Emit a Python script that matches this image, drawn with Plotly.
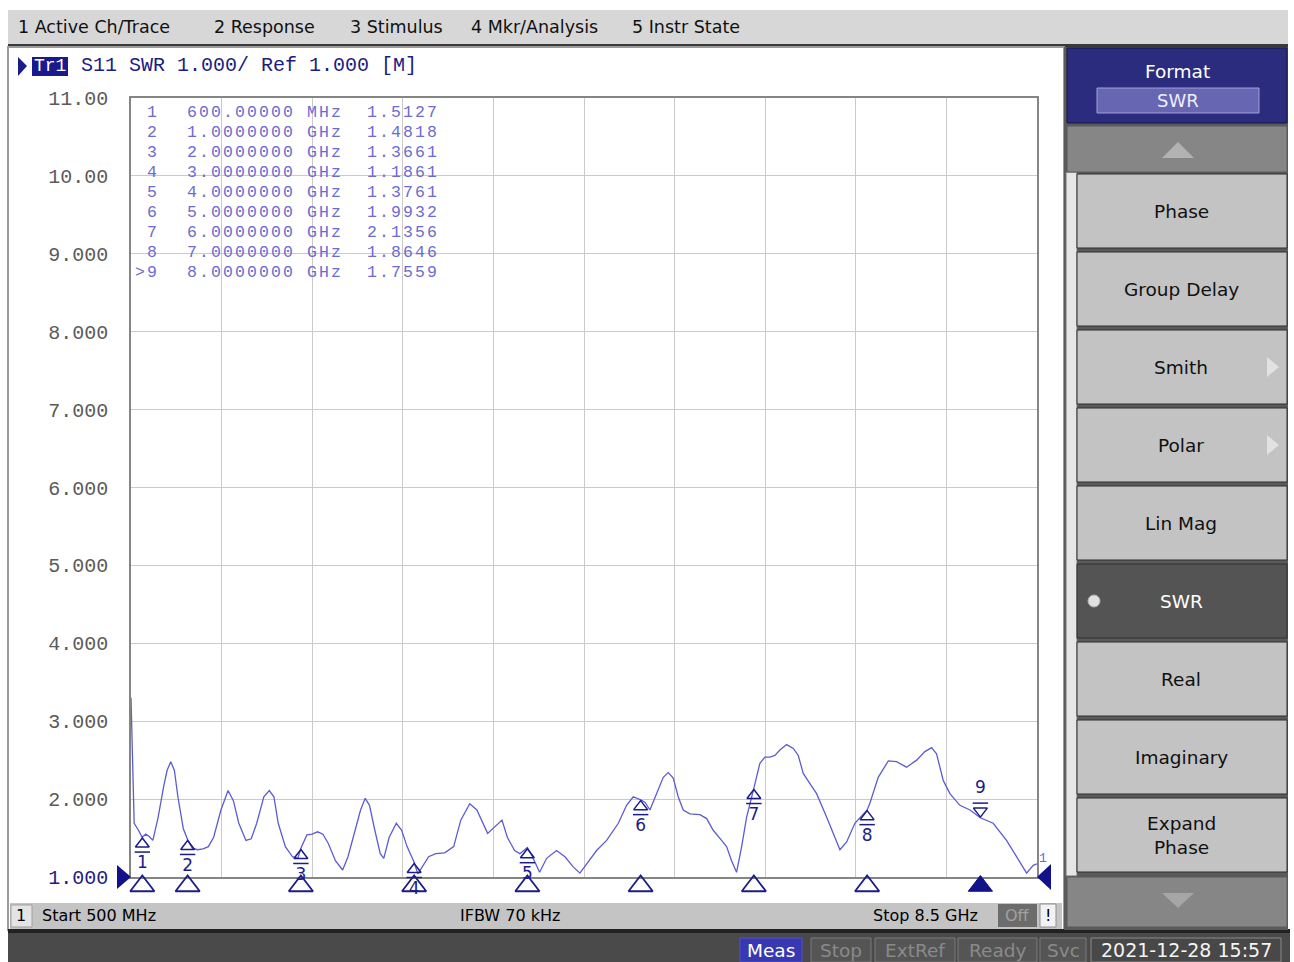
import plotly.graph_objects as go

# ---------------- data ----------------
freq_ghz = [0.500, 0.506, 0.516, 0.528, 0.566, 0.598, 0.630, 0.661, 0.693, 0.740, 0.788, 0.819, 0.851, 0.883,
            0.914, 0.962, 1.000, 1.041, 1.088, 1.136, 1.183, 1.230, 1.294, 1.357, 1.404, 1.452, 1.515, 1.562,
            1.610, 1.673, 1.721, 1.762, 1.800, 1.863, 1.926, 1.974, 2.000, 2.053, 2.100, 2.147, 2.195, 2.242,
            2.305, 2.369, 2.416, 2.479, 2.527, 2.568, 2.606, 2.653, 2.701, 2.732, 2.780, 2.843, 2.890, 2.938,
            3.000, 3.033, 3.080, 3.128, 3.191, 3.270, 3.349, 3.412, 3.491, 3.554, 3.649, 3.713, 3.776, 3.823,
            3.887, 3.934, 4.000, 4.045, 4.108, 4.170, 4.258, 4.332, 4.405, 4.464, 4.523, 4.611, 4.700, 4.803,
            4.876, 4.935, 5.000, 5.038, 5.082, 5.141, 5.200, 5.244, 5.288, 5.332, 5.376, 5.435, 5.524, 5.583,
            5.641, 5.715, 5.759, 5.803, 5.847, 5.892, 5.936, 6.000, 6.053, 6.098, 6.142, 6.186, 6.230, 6.289,
            6.348, 6.392, 6.436, 6.495, 6.554, 6.642, 6.716, 6.760, 6.819, 6.892, 7.000, 7.025, 7.098, 7.187,
            7.260, 7.348, 7.437, 7.510, 7.569, 7.613, 7.672, 7.731, 7.819, 7.908, 8.000, 8.113, 8.231, 8.320,
            8.408, 8.467, 8.500]
swr = [3.30, 2.86, 2.13, 1.69, 1.60, 1.51, 1.55, 1.52, 1.47, 1.77, 2.16, 2.37, 2.48, 2.37,
       2.03, 1.62, 1.48, 1.37, 1.35, 1.36, 1.39, 1.51, 1.86, 2.11, 1.98, 1.69, 1.47, 1.49,
       1.69, 2.03, 2.11, 2.03, 1.69, 1.39, 1.26, 1.24, 1.37, 1.54, 1.55, 1.58, 1.55, 1.43,
       1.21, 1.09, 1.26, 1.60, 1.86, 2.01, 1.92, 1.60, 1.30, 1.24, 1.51, 1.69, 1.60, 1.39,
       1.19, 1.04, 1.15, 1.26, 1.30, 1.31, 1.39, 1.73, 1.94, 1.86, 1.56, 1.64, 1.73, 1.51,
       1.34, 1.30, 1.38, 1.26, 1.06, 1.24, 1.34, 1.26, 1.13, 1.05, 1.17, 1.34, 1.47, 1.69,
       1.92, 2.03, 1.99, 1.96, 1.86, 2.07, 2.28, 2.34, 2.27, 2.03, 1.86, 1.81, 1.80, 1.75,
       1.60, 1.47, 1.39, 1.21, 1.06, 1.39, 1.77, 2.14, 2.46, 2.54, 2.54, 2.56, 2.63, 2.70,
       2.65, 2.56, 2.33, 2.20, 2.07, 1.77, 1.51, 1.35, 1.45, 1.69, 1.86, 1.95, 2.28, 2.49,
       2.48, 2.41, 2.50, 2.61, 2.66, 2.58, 2.24, 2.07, 1.92, 1.86, 1.76, 1.69, 1.47, 1.26,
       1.05, 1.15, 1.17]
assert len(freq_ghz) == len(swr)

marker_ids = ["1", "2", "3", "4", "5", "6", "7", "8", "9"]
marker_freq = [0.6, 1.0, 2.0, 3.0, 4.0, 5.0, 6.0, 7.0, 8.0]
marker_freq_text = ["600.00000", "1.0000000", "2.0000000", "3.0000000", "4.0000000",
                    "5.0000000", "6.0000000", "7.0000000", "8.0000000"]
marker_unit = ["MHz", "GHz", "GHz", "GHz", "GHz", "GHz", "GHz", "GHz", "GHz"]
marker_swr = [1.5127, 1.4818, 1.3661, 1.1861, 1.3761, 1.9932, 2.1356, 1.8646, 1.7559]
active_marker = "9"

y_ticks = [1, 2, 3, 4, 5, 6, 7, 8, 9, 10, 11]
y_tick_labels = ["1.000", "2.000", "3.000", "4.000", "5.000", "6.000", "7.000", "8.000", "9.000", "10.00", "11.00"]

menu_items = ["1 Active Ch/Trace", "2 Response", "3 Stimulus", "4 Mkr/Analysis", "5 Instr State"]
softkeys = ["Phase", "Group Delay", "Smith", "Polar", "Lin Mag", "SWR", "Real", "Imaginary", "Expand<br>Phase"]
selected_softkey = "SWR"
status_items = ["Meas", "Stop", "ExtRef", "Ready", "Svc"]

# ---------------- geometry (pixels) ----------------
W, H = 1294, 962
PX0, PX1, PY0, PY1 = 131, 1037, 98, 877
EXT = 26  # overlay strip below the grid for marker glyphs
X_RANGE = [0.5, 8.5]
Y_RANGE = [1, 11]
PPU = (PY1 - PY0) / (Y_RANGE[1] - Y_RANGE[0])

NAVY = "#1c1c86"
TRACE = "#5c5cd2"
TABLE = "#6c6cd0"
MONO = "Liberation Mono, DejaVu Sans Mono, monospace"
SANS = "DejaVu Sans, Liberation Sans, sans-serif"

shapes = []
annots = []


def fx(x):
    return x / W


def fy(y):
    return 1 - y / H


def rect(x0, y0, x1, y1, fill, line=None, lw=0):
    shapes.append(dict(type="rect", xref="paper", yref="paper", x0=fx(x0), x1=fx(x1), y0=fy(y1), y1=fy(y0),
                       fillcolor=fill, line=dict(color=line or fill, width=lw), layer="below"))


def poly(pts, fill, layer="above"):
    path = "M " + " L ".join(f"{fx(a)},{fy(b)}" for a, b in pts) + " Z"
    shapes.append(dict(type="path", xref="paper", yref="paper", path=path, fillcolor=fill,
                       line=dict(color=fill, width=0), layer=layer))


def text(x, y, s, size=15, color="#000", family=SANS, xanchor="left"):
    annots.append(dict(x=fx(x), y=fy(y), xref="paper", yref="paper", text=s, showarrow=False,
                       xanchor=xanchor, yanchor="middle", font=dict(size=size, color=color, family=family)))


# ---------------- frame / chrome ----------------
rect(8, 10, 1288, 45, "#d7d7d7")
rect(8, 44, 1288, 47, "#3a3a3a")
menu_x = [16, 212, 348, 469, 630]
for s, x in zip(menu_items, menu_x):
    text(x, 27, s, size=17.5, color="#111")

# chart window
rect(8, 47, 1064, 930, "#ffffff", "#9c9c9c", 2)
# status bar under chart
rect(10, 903, 1062, 929, "#c4c4c4")
rect(11, 905, 32, 927, "#e4e4e4", "#a0a0a0", 1)
text(21, 915, "1", 16, "#000", xanchor="center")
text(40, 915, "Start 500 MHz", 16)
text(458, 915, "IFBW 70 kHz", 16)
text(871, 915, "Stop 8.5 GHz", 16)
rect(998, 904, 1037, 927, "#6c6c6c")
text(1017, 915, "Off", 16, "#a0a0a0", xanchor="center")
rect(1040, 904, 1056, 927, "#f2f2f2", "#909090", 1)
text(1048, 915, "!", 16, "#000", xanchor="center")

# bottom bar
rect(8, 930, 1290, 962, "#4a4a4a")
rect(8, 929, 1290, 933, "#222222")
box_x = [(740, 802), (811, 871), (875, 955), (958, 1037), (1040, 1086)]
for s, (a, b) in zip(status_items, box_x):
    if s == "Meas":
        rect(a, 938, b, 962, "#3838b0", "#5050c8", 1)
        text((a + b) / 2, 950, s, 18.5, "#ffffff", xanchor="center")
    else:
        rect(a, 938, b, 962, "#555555", "#7a7a7a", 1)
        text((a + b) / 2, 950, s, 18.5, "#8a8a8a", xanchor="center")
rect(1091, 938, 1281, 962, "#484848", "#8a8a8a", 1)
text(1186, 950, "2021-12-28 15:57", 19, "#f4f4f4", xanchor="center")

# right softkey panel
rect(1064, 47, 1288, 930, "#5a5a5a")
rect(1066, 172, 1077, 876, "#e6e6e6", "#707070", 1)
rect(1067, 48, 1287, 123, "#2c2c7e", "#14144a", 1)
text(1177, 71, "Format", 18.5, "#ffffff", xanchor="center")
rect(1097, 88, 1259, 113, "#6666b2", "#a0a0d8", 1)
text(1178, 101, "SWR", 18, "#eef", xanchor="center")
rect(1067, 126, 1287, 172, "#868686", "#5a5a5a", 1)
poly([(1162, 158), (1178, 142), (1194, 158)], "#b2b2b2")
rect(1067, 877, 1287, 927, "#868686", "#5a5a5a", 1)
poly([(1162, 893), (1194, 893), (1178, 908)], "#a6a6a6")
for i, s in enumerate(softkeys):
    c = 211 + 78 * i
    sel = (s == selected_softkey)
    rect(1077, c - 37, 1287, c + 37, "#545454" if sel else "#c3c3c3", "#2e2e2e", 1)
    text(1181, c, s, 18.5, "#ffffff" if sel else "#111111", xanchor="center")
    if sel:
        shapes.append(dict(type="circle", xref="paper", yref="paper", x0=fx(1088), x1=fx(1100),
                           y0=fy(607), y1=fy(595), fillcolor="#e0e0e0", line=dict(color="#b0b0b0", width=1)))
    if s in ("Smith", "Polar"):
        poly([(1267, c - 10), (1279, c), (1267, c + 10)], "#e2e2e2")

# trace header
poly([(18, 57), (27, 66), (18, 76)], NAVY)
rect(32, 57, 68, 76, "#1a1a8c")
text(50, 66, "Tr1", 18, "#ffffff", MONO, "center")
text(79, 66, "S11 SWR 1.000/ Ref 1.000 [M]", 20, NAVY, MONO)

# reference arrows
poly([(117, 865), (131, 877), (117, 889)], "#12128a")
poly([(1051, 864), (1037, 877), (1051, 890)], "#12128a")
text(1043, 858, "1", 13, TABLE, MONO, "center")

# marker table (columns placed separately so rows stay compact)
TSIZE = 16.5
for i in range(len(marker_ids)):
    num = (">" + marker_ids[i]) if marker_ids[i] == active_marker else marker_ids[i]
    ty = 112 + 20 * i
    sp = '<span style="letter-spacing:2.1px">{}</span>'
    text(161, ty, sp.format(num), TSIZE, TABLE, MONO, "right")
    text(185, ty, sp.format(marker_freq_text[i]), TSIZE, TABLE, MONO)
    text(305, ty, sp.format(marker_unit[i]), TSIZE, TABLE, MONO)
    text(365, ty, sp.format(f"{marker_swr[i]:.4f}"), TSIZE, TABLE, MONO)

# ---------------- traces ----------------
fig = go.Figure()
fig.add_trace(go.Scatter(x=freq_ghz, y=swr, mode="lines", line=dict(color=TRACE, width=1.3),
                         hoverinfo="skip", showlegend=False))

normal = [i for i, m in enumerate(marker_ids) if m != active_marker]
act = [i for i, m in enumerate(marker_ids) if m == active_marker]
OV = dict(xaxis="x2", yaxis="y2", showlegend=False, hoverinfo="skip", cliponaxis=False)

fig.add_trace(go.Scatter(x=[marker_freq[i] for i in normal], y=[marker_swr[i] - 7 / PPU for i in normal],
                         mode="markers", marker=dict(symbol="triangle-up-open", size=12, color=NAVY,
                                                     line=dict(color=NAVY, width=1.5)), **OV))
fig.add_trace(go.Scatter(x=[marker_freq[i] for i in normal], y=[marker_swr[i] - 15 / PPU for i in normal],
                         mode="markers", marker=dict(symbol="line-ew-open", size=11, color=NAVY,
                                                     line=dict(color=NAVY, width=1.5)), **OV))
fig.add_trace(go.Scatter(x=[marker_freq[i] for i in normal], y=[marker_swr[i] - 27 / PPU for i in normal],
                         mode="text", text=[marker_ids[i] for i in normal],
                         textfont=dict(color=NAVY, size=17, family=SANS), **OV))
fig.add_trace(go.Scatter(x=[marker_freq[i] for i in act], y=[marker_swr[i] + 7 / PPU for i in act],
                         mode="markers", marker=dict(symbol="triangle-down-open", size=12, color=NAVY,
                                                     line=dict(color=NAVY, width=1.5)), **OV))
fig.add_trace(go.Scatter(x=[marker_freq[i] for i in act], y=[marker_swr[i] + 15 / PPU for i in act],
                         mode="markers", marker=dict(symbol="line-ew-open", size=11, color=NAVY,
                                                     line=dict(color=NAVY, width=1.5)), **OV))
fig.add_trace(go.Scatter(x=[marker_freq[i] for i in act], y=[marker_swr[i] + 29 / PPU for i in act],
                         mode="text", text=[marker_ids[i] for i in act],
                         textfont=dict(color=NAVY, size=17, family=SANS), **OV))

# stimulus markers under the axis
fig.add_trace(go.Scatter(x=[marker_freq[i] for i in normal], y=[Y_RANGE[0] - 9 / PPU] * len(normal),
                         mode="markers", marker=dict(symbol="triangle-up-open", size=21, color=NAVY,
                                                     line=dict(color=NAVY, width=1.8)), **OV))
fig.add_trace(go.Scatter(x=[marker_freq[i] for i in act], y=[Y_RANGE[0] - 9 / PPU] * len(act),
                         mode="markers", marker=dict(symbol="triangle-up", size=21, color="#12128a",
                                                     line=dict(color="#12128a", width=1)), **OV))

tick_text = [f'<span style="color:{NAVY}">{t}</span>' if v == 1 else t
             for v, t in zip(y_ticks, y_tick_labels)]

fig.update_layout(
    width=W, height=H, autosize=False,
    margin=dict(l=0, r=0, t=0, b=0, pad=0, autoexpand=False),
    paper_bgcolor="#ffffff", plot_bgcolor="rgba(0,0,0,0)",
    shapes=shapes, annotations=annots, showlegend=False,
    xaxis=dict(domain=[fx(PX0), fx(PX1)], range=X_RANGE, tick0=0.5, dtick=0.8, showticklabels=False,
               showgrid=True, gridcolor="#cacaca", gridwidth=1, zeroline=False, automargin=False,
               showline=True, linecolor="#858585", linewidth=1.5, mirror=True, ticks=""),
    yaxis=dict(domain=[fy(PY1), fy(PY0)], range=Y_RANGE, tickvals=y_ticks, ticktext=tick_text,
               showgrid=True, gridcolor="#cacaca", gridwidth=1, zeroline=False, automargin=False,
               showline=True, linecolor="#858585", linewidth=1.5, mirror=True,
               ticks="outside", ticklen=17, tickcolor="rgba(0,0,0,0)",
               tickfont=dict(family=MONO, size=20, color="#5a5a5a")),
    xaxis2=dict(domain=[fx(PX0), fx(PX1)], range=X_RANGE, visible=False, anchor="y2",
                showgrid=False, zeroline=False),
    yaxis2=dict(domain=[fy(PY1 + EXT), fy(PY0)], range=[Y_RANGE[0] - EXT / PPU, Y_RANGE[1]], visible=False,
                anchor="x2", showgrid=False, zeroline=False),
)

fig.write_html("out.html", config={"displayModeBar": False},
               post_script="document.body.style.margin='0';document.body.style.overflow='hidden';")
